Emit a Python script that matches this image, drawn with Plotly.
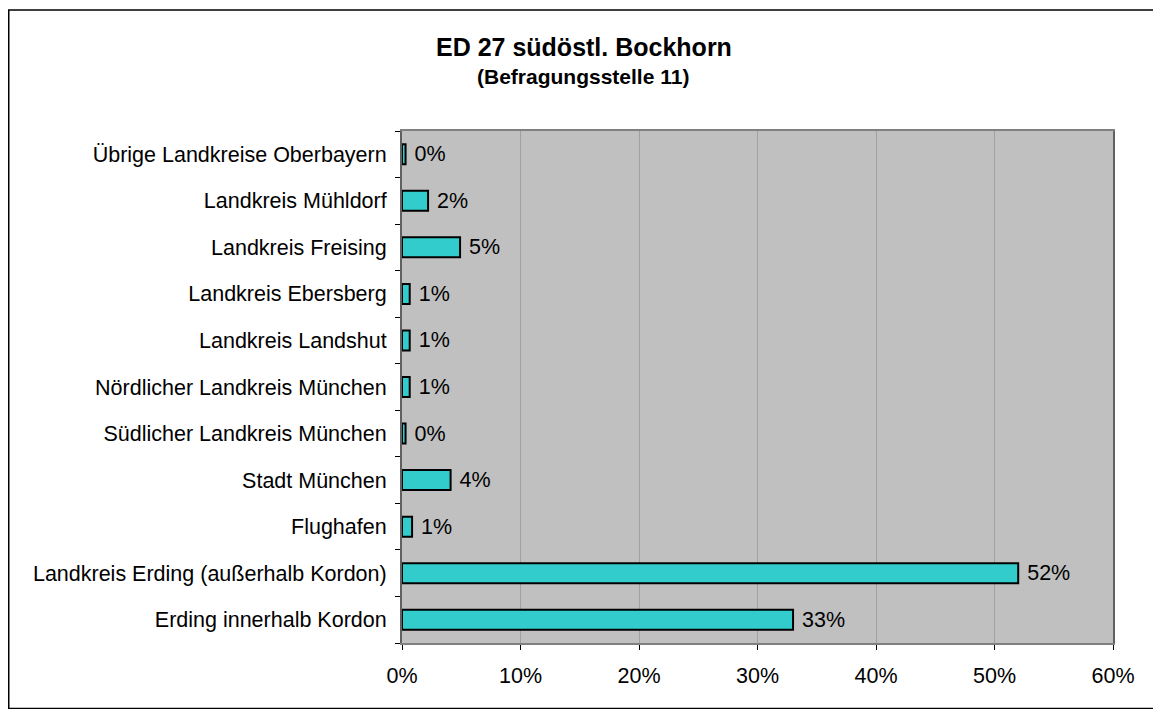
import plotly.graph_objects as go

categories = [
    "Erding innerhalb Kordon",
    "Landkreis Erding (außerhalb Kordon)",
    "Flughafen",
    "Stadt München",
    "Südlicher Landkreis München",
    "Nördlicher Landkreis München",
    "Landkreis Landshut",
    "Landkreis Ebersberg",
    "Landkreis Freising",
    "Landkreis Mühldorf",
    "Übrige Landkreise Oberbayern",
]
shares = [0.330, 0.520, 0.0085, 0.041, 0.003, 0.0065, 0.0065, 0.0065, 0.049, 0.022, 0.003]
x_ticks = [0, 0.1, 0.2, 0.3, 0.4, 0.5, 0.6]
x_tick_labels = ["0%", "10%", "20%", "30%", "40%", "50%", "60%"]
title_text = "ED 27 südöstl. Bockhorn"
subtitle_text = "(Befragungsstelle 11)"

FONT = "Liberation Sans, Arial, sans-serif"
FS = 21.5
# page has an 8px body margin; figure placed at (8, 8)
W, H = 1147, 701
L, R, T, B = 394, 42, 123, 66
pw, ph = W - L - R, H - T - B

def px_x(p):
    return (p - L) / pw

def px_y(p):
    return (H - B - p) / ph

fig = go.Figure(
    go.Bar(
        x=shares,
        y=categories,
        orientation="h",
        marker=dict(color="#33CCCC", line=dict(color="black", width=2)),
        texttemplate="\u00a0%{x:.0%}",
        textposition="outside",
        constraintext="none",
        textfont=dict(family=FONT, size=FS, color="black"),
        outsidetextfont=dict(family=FONT, size=FS, color="black"),
        cliponaxis=False,
        hoverinfo="skip",
    )
)

fig.update_layout(
    width=W,
    height=H,
    margin=dict(l=L, r=R, t=T, b=B, autoexpand=False),
    paper_bgcolor="white",
    plot_bgcolor="#C0C0C0",
    bargap=0.57,
    showlegend=False,
    font=dict(family=FONT, size=FS, color="black"),
    xaxis=dict(
        range=[0, 0.6],
        tickvals=x_ticks,
        ticktext=x_tick_labels,
        showgrid=True,
        gridcolor="#A0A0A0",
        gridwidth=1,
        zeroline=False,
        ticks="outside",
        ticklen=5,
        tickcolor="black",
        ticklabelstandoff=7,
        showline=True,
        linecolor="#808080",
        linewidth=2,
        mirror=True,
        tickfont=dict(family=FONT, size=FS, color="black"),
    ),
    yaxis=dict(
        categoryorder="array",
        categoryarray=categories,
        type="category",
        tickson="boundaries",
        ticks="outside",
        ticklen=5,
        tickcolor="black",
        ticklabelstandoff=9,
        showgrid=False,
        showline=True,
        linecolor="#606060",
        linewidth=2,
        mirror=True,
        tickfont=dict(family=FONT, size=FS, color="black"),
    ),
    shapes=[
        dict(
            type="rect",
            xref="paper",
            yref="paper",
            x0=px_x(0.75),
            x1=px_x(W - 1),
            y0=px_y(H - 0.5),
            y1=px_y(2),
            line=dict(color="black", width=1.5),
            fillcolor="rgba(0,0,0,0)",
            layer="below",
        )
    ],
    annotations=[
        dict(
            text=f"<b>{title_text}</b>",
            xref="paper",
            yref="paper",
            x=px_x(576),
            y=px_y(39),
            showarrow=False,
            font=dict(family=FONT, size=25, color="black"),
            xanchor="center",
            yanchor="middle",
        ),
        dict(
            text=f"<b>{subtitle_text}</b>",
            xref="paper",
            yref="paper",
            x=px_x(575),
            y=px_y(68),
            showarrow=False,
            font=dict(family=FONT, size=21, color="black"),
            xanchor="center",
            yanchor="middle",
        ),
    ],
)

fig.write_html("out.html")
